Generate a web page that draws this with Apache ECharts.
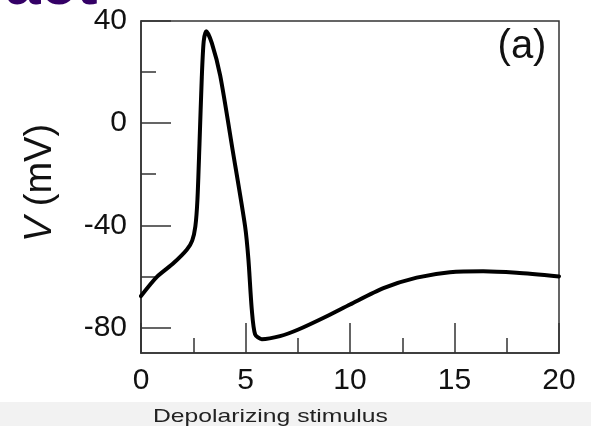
<!DOCTYPE html>
<html>
<head>
<meta charset="utf-8">
<script src="https://cdn.jsdelivr.net/npm/echarts@6/dist/echarts.min.js"></script>
<style>
html,body{margin:0;padding:0;background:#fff;}
#c{width:591px;height:426px;}
</style>
</head>
<body>
<div id="c"></div>
<script>
// time (ms)
var timeMs = [0, 0.76, 1.56, 2.19, 2.45, 2.6, 2.7, 2.8, 2.91, 3.0, 3.12, 3.39, 3.79, 4.4, 4.98, 5.14, 5.3, 5.46, 5.78, 6.65, 7.53, 8.89, 10.0, 11.6, 13.19, 14.78, 16.37, 17.97, 20];
// membrane potential (mV)
var voltage = [-67.7, -60.2, -54.8, -49.6, -46, -40.5, -30, -7.8, 18.2, 32, 36, 31.3, 18.6, -11.3, -40.4, -53.4, -72.9, -82.7, -84.6, -83.4, -80.8, -75.6, -71.0, -64.6, -60.5, -58.4, -58.0, -58.6, -60.0];
var yMajorTicks = [-80, -40, 0, 40];
var yMinorTicks = [-60, -20, 20];
var xTickInterval = 5;
var panelLabel = '(a)';
var footerText = 'Depolarizing stimulus';
var headerText = 'act';

var FONT = 'Liberation Sans, Arial, Helvetica, sans-serif';
var seriesData = timeMs.map(function (t, i) { return [t, voltage[i]]; });

var chart = echarts.init(document.getElementById('c'), null, {renderer: 'canvas'});
chart.setOption({
  animation: false,
  backgroundColor: '#fff',
  grid: {left: 141, right: 32, top: 21, bottom: 73, show: true, borderColor: '#333', borderWidth: 1.5, backgroundColor: 'transparent'},
  xAxis: {
    type: 'value', min: 0, max: 20, interval: xTickInterval,
    axisLine: {show: true, onZero: false, lineStyle: {color: '#333', width: 1.5}},
    axisTick: {show: true, inside: true, length: 30, lineStyle: {color: '#333', width: 1.5}},
    minorTick: {show: true, splitNumber: 2, length: 15, lineStyle: {color: '#333', width: 1.5}},
    splitLine: {show: false},
    axisLabel: {show: true, margin: 13, fontSize: 30, color: '#111', fontFamily: FONT}
  },
  yAxis: [{
    type: 'value', min: -90, max: 40,
    axisLine: {show: true, onZero: false, lineStyle: {color: '#333', width: 1.5}},
    axisTick: {show: true, inside: true, length: 30, customValues: yMajorTicks, lineStyle: {color: '#333', width: 1.5}},
    splitLine: {show: false},
    axisLabel: {show: true, margin: 14, fontSize: 30, color: '#111', fontFamily: FONT, customValues: yMajorTicks}
  }, {
    type: 'value', min: -90, max: 40, position: 'left',
    axisLine: {show: false, onZero: false},
    axisTick: {show: true, inside: true, length: 15, customValues: yMinorTicks, lineStyle: {color: '#333', width: 1.5}},
    splitLine: {show: false},
    axisLabel: {show: false}
  }],
  series: [{
    type: 'line', data: seriesData, xAxisIndex: 0, yAxisIndex: 0,
    showSymbol: false, smooth: 0.25,
    lineStyle: {color: '#000', width: 4, join: 'round', cap: 'round'}
  }],
  graphic: [
    {type: 'rect', z: -10, shape: {x: 0, y: 402, width: 591, height: 24}, style: {fill: '#f2f2f2'}},
    {type: 'text', x: 153, y: 416.5, scaleX: 1.3, style: {text: footerText, x: 0, y: 0, align: 'left', verticalAlign: 'middle', font: '19px ' + FONT, fill: '#222'}},
    {type: 'text', x: 522, y: 46.5, style: {text: panelLabel, x: 0, y: 0, align: 'center', verticalAlign: 'middle', font: '40px ' + FONT, fill: '#111'}},
    {type: 'text', x: 5, y: -14, style: {text: headerText, x: 0, y: 0, align: 'left', verticalAlign: 'middle', font: 'bold 64px ' + FONT, fill: '#340066'}},
    {type: 'text', x: 40.6, y: 183, rotation: Math.PI / 2, style: {
      text: '{i|V} (mV)', x: 0, y: 0, align: 'center', verticalAlign: 'middle', font: '38px ' + FONT, fill: '#111',
      rich: {i: {fontStyle: 'italic', fontSize: 38, fontFamily: FONT, fill: '#111'}}
    }}
  ]
});
</script>
</body>
</html>
